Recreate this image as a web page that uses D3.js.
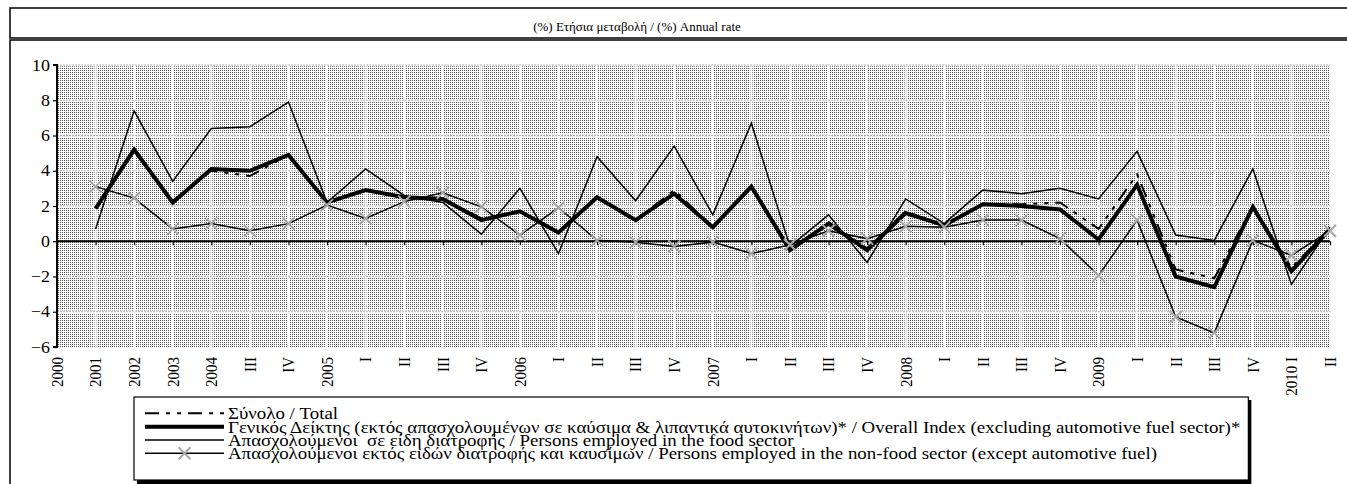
<!DOCTYPE html>
<html>
<head>
<meta charset="utf-8">
<script src="https://cdn.jsdelivr.net/npm/d3@7"></script>
<style>
  html, body { margin: 0; padding: 0; background: #fff; overflow: hidden; }
  text { font-family: "Liberation Serif", "Times New Roman", serif; fill: #000; }
</style>
</head>
<body>
<svg id="chart" width="1347" height="484"></svg>
<script>
// Quarter / year labels along the horizontal axis
const categories = ["2000","2001","2002","2003","2004","III","IV","2005","I","II","III","IV",
  "2006","I","II","III","IV","2007","I","II","III","IV","2008","I","II","III","IV",
  "2009","I","II","III","IV","2010 I","II"];

// Annual rate of change (%) per series
const totalValues   = [null, 1.9, 5.1, 2.3, 4.0, 3.7, 4.9, 2.2, 2.9, 2.5, 2.4, 1.3, 1.7, 0.5, 2.5, 1.2, 2.9,
  0.8, 3.1, -0.5, 1.1, -0.4, 1.7, 0.9, 2.1, 2.1, 2.2, 0.7, 3.8, -1.6, -2.1, 2.0, -1.5, 0.7];
const overallValues = [null, 1.85, 5.2, 2.2, 4.1, 4.0, 4.9, 2.2, 2.9, 2.5, 2.4, 1.2, 1.7, 0.5, 2.5, 1.2, 2.7,
  0.8, 3.1, -0.5, 1.0, -0.5, 1.6, 0.9, 2.1, 2.0, 1.8, 0.1, 3.2, -2.0, -2.6, 1.95, -1.7, 0.7];
const foodValues    = [null, 0.7, 7.4, 3.4, 6.4, 6.5, 7.9, 2.2, 4.1, 2.6, 2.2, 0.4, 3.0, -0.7, 4.8, 2.3, 5.4,
  1.5, 6.7, -0.3, 1.5, -1.2, 2.4, 1.0, 2.9, 2.7, 3.0, 2.4, 5.1, 0.35, 0.05, 4.1, -2.45, 0.8];
const nonFoodValues = [null, 3.1, 2.45, 0.7, 1.0, 0.6, 1.0, 2.05, 1.3, 2.25, 2.75, 1.95, 0.35, 1.9, 0.05, -0.05, -0.3,
  -0.05, -0.7, -0.2, 0.6, 0.15, 0.85, 0.8, 1.2, 1.2, 0.15, -1.95, 1.2, -4.3, -5.2, 0.05, -0.8, 0.6];

const yTicks = [-6, -4, -2, 0, 2, 4, 6, 8, 10];

const titleText = "(%) Ετήσια μεταβολή / (%) Annual rate";
const legendLabels = [
  "Σύνολο / Total",
  "Γενικός Δείκτης (εκτός απασχολουμένων σε καύσιμα & λιπαντικά αυτοκινήτων)* / Overall Index (excluding automotive fuel sector)*",
  "Απασχολούμενοι  σε είδη διατροφής / Persons employed in the food sector",
  "Απασχολούμενοι εκτός ειδών διατροφής και καυσίμων / Persons employed in the non-food sector (except automotive fuel)"
];

const svg = d3.select("#chart");
const plot = { left: 57, right: 1330, top: 65, bottom: 347 };
const stretch = 1.18;   // the serif face is set slightly wide

const x = d3.scalePoint().domain(d3.range(categories.length)).range([plot.left, plot.right]);
const y = d3.scaleLinear().domain([-6, 10]).range([plot.bottom, plot.top]);

// dotted fill of the plot area
const defs = svg.append("defs");
const pat = defs.append("pattern").attr("id", "dots")
  .attr("width", 2).attr("height", 2).attr("patternUnits", "userSpaceOnUse");
pat.append("rect").attr("width", 2).attr("height", 2).attr("fill", "#fff");
pat.append("rect").attr("width", 1).attr("height", 1).attr("fill", "#555");

// outer frames
svg.append("rect").attr("x", 10).attr("y", 8).attr("width", 1400).attr("height", 30)
  .attr("fill", "none").attr("stroke", "#000").attr("stroke-width", 1.5);
svg.append("rect").attr("x", 10).attr("y", 40).attr("width", 1400).attr("height", 500)
  .attr("fill", "none").attr("stroke", "#000").attr("stroke-width", 1.5);

svg.append("text").attr("x", 637).attr("y", 31).attr("text-anchor", "middle")
  .style("font-size", "13px").text(titleText);

// plot background
svg.append("rect").attr("x", plot.left).attr("y", plot.top)
  .attr("width", plot.right - plot.left).attr("height", plot.bottom - plot.top)
  .attr("fill", "url(#dots)");

// white separators between categories
svg.append("g").selectAll("line").data(d3.range(1, categories.length - 1)).join("line")
  .attr("x1", i => x(i)).attr("x2", i => x(i))
  .attr("y1", plot.top).attr("y2", plot.bottom)
  .attr("stroke", "#fff").attr("stroke-width", 2);

// horizontal gridlines
const gridVals = yTicks.filter(v => v !== -6 && v !== 0);
const grid = svg.append("g");
grid.selectAll("line.w").data(gridVals).join("line").attr("class", "w")
  .attr("x1", plot.left).attr("x2", plot.right)
  .attr("y1", d => y(d)).attr("y2", d => y(d))
  .attr("stroke", "#fff").attr("stroke-width", 2.5);
grid.selectAll("line.g").data(gridVals).join("line").attr("class", "g")
  .attr("x1", plot.left).attr("x2", plot.right)
  .attr("y1", d => y(d)).attr("y2", d => y(d))
  .attr("stroke", "#b5b5b5").attr("stroke-width", 1).attr("stroke-dasharray", "2,1");

// horizontal axis through zero
const xAxis = d3.axisBottom(x).tickSize(4).tickFormat("");
const gx = svg.append("g").attr("transform", `translate(0,${y(0)})`).call(xAxis);
gx.select(".domain").attr("stroke-width", 2).attr("d", `M${plot.left},0H${plot.right}`);
gx.selectAll(".tick line").attr("stroke-width", 1.2);

// category labels, rotated
svg.append("g").selectAll("text").data(d3.range(categories.length)).join("text")
  .attr("transform", i => `translate(${x(i)},357) scale(${stretch},1) rotate(-90)`)
  .attr("text-anchor", "end").attr("dy", "0.33em")
  .style("font-size", "15px")
  .text(i => categories[i]);

// vertical axis
const yAxis = d3.axisLeft(y).tickValues(yTicks).tickSize(4).tickFormat("");
const gy = svg.append("g").attr("transform", `translate(${plot.left},0)`).call(yAxis);
gy.select(".domain").attr("stroke-width", 2).attr("d", `M-4,${plot.top}H0V${plot.bottom}H-4`);
gy.selectAll(".tick line").attr("stroke-width", 1.2);
svg.append("g").selectAll("text").data(yTicks).join("text")
  .attr("transform", d => `translate(${plot.left - 7},${y(d)}) scale(1.12,1)`)
  .attr("text-anchor", "end").attr("dy", "0.35em")
  .style("font-size", "16px")
  .text(d => d3.format("d")(d));

// series lines
const line = d3.line().defined(d => d != null).x((d, i) => x(i)).y(d => y(d));
const lines = svg.append("g").attr("fill", "none").attr("stroke", "#000")
  .attr("stroke-linejoin", "miter");
lines.append("path").datum(foodValues).attr("d", line).attr("stroke-width", 1.5);
lines.append("path").datum(nonFoodValues).attr("d", line).attr("stroke-width", 1.5);
lines.append("path").datum(overallValues).attr("d", line).attr("stroke-width", 4);
lines.append("path").datum(totalValues).attr("d", line).attr("stroke-width", 2)
  .attr("stroke-dasharray", "14,7,4,7,4,7");

// cross markers on the non-food series
const cross = (cx, cy, r) => `M${cx - r},${cy - r}L${cx + r},${cy + r}M${cx - r},${cy + r}L${cx + r},${cy - r}`;
svg.append("g").selectAll("path")
  .data(nonFoodValues.map((v, i) => ({ v, i })).filter(d => d.v != null)).join("path")
  .attr("d", d => cross(x(d.i), y(d.v), 6))
  .attr("stroke", "#a9a9a9").attr("stroke-width", 2).attr("fill", "none");

// legend
const lg = svg.append("g");
const lgX = 134, lgY = 397, lgH = 83;
const shadow = lg.append("rect").attr("fill", "#000");
const box = lg.append("rect").attr("fill", "#fff").attr("stroke", "#000").attr("stroke-width", 1.2);
const rowY = [419.3, 432.7, 446, 459.3];
const sampleX0 = 145, sampleX1 = 224, textX = 228;
let maxEnd = 0;
legendLabels.forEach((lab, k) => {
  const t = lg.append("text")
    .attr("transform", `translate(${textX},${rowY[k]}) scale(${stretch},1)`)
    .style("font-size", "16px").attr("xml:space", "preserve").text(lab);
  maxEnd = Math.max(maxEnd, textX + stretch * t.node().getComputedTextLength());
});
const ly = rowY.map(v => v - 6);
lg.append("line").attr("x1", sampleX0).attr("x2", sampleX1).attr("y1", ly[0]).attr("y2", ly[0])
  .attr("stroke", "#000").attr("stroke-width", 2).attr("stroke-dasharray", "14,7,4,7,4,7");
lg.append("line").attr("x1", sampleX0).attr("x2", sampleX1).attr("y1", ly[1]).attr("y2", ly[1])
  .attr("stroke", "#000").attr("stroke-width", 4);
lg.append("line").attr("x1", sampleX0).attr("x2", sampleX1).attr("y1", ly[2]).attr("y2", ly[2])
  .attr("stroke", "#000").attr("stroke-width", 1.5);
lg.append("line").attr("x1", sampleX0).attr("x2", sampleX1).attr("y1", ly[3]).attr("y2", ly[3])
  .attr("stroke", "#000").attr("stroke-width", 1.5);
lg.append("path").attr("d", cross((sampleX0 + sampleX1) / 2, ly[3], 6))
  .attr("stroke", "#a9a9a9").attr("stroke-width", 2).attr("fill", "none");
const lgW = maxEnd + 8 - lgX;
box.attr("x", lgX).attr("y", lgY).attr("width", lgW).attr("height", lgH);
shadow.attr("x", lgX + 3).attr("y", lgY + 3).attr("width", lgW).attr("height", lgH + 1);
</script>
</body>
</html>
